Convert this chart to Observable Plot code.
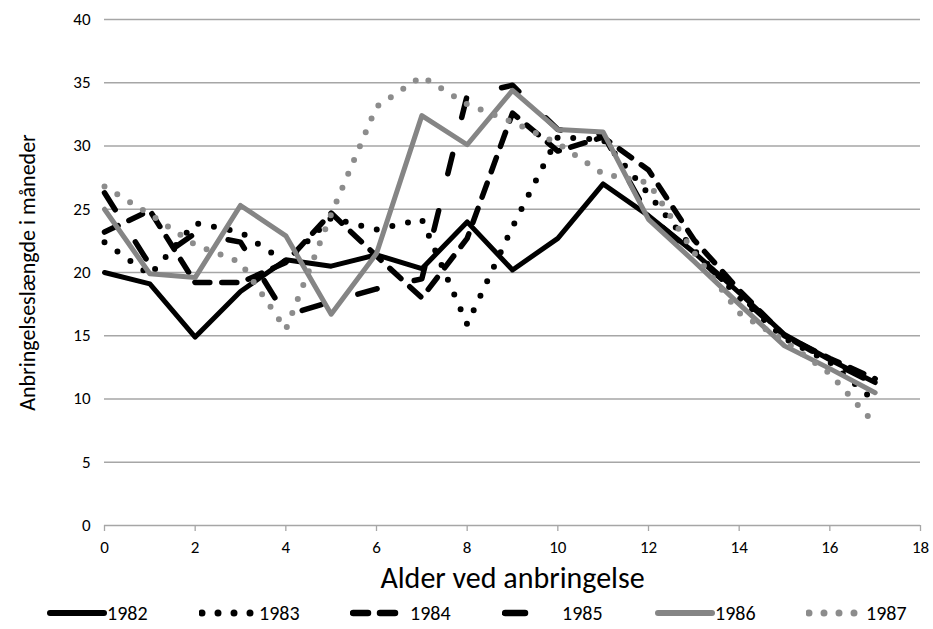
<!DOCTYPE html>
<html>
<head>
<meta charset="utf-8">
<script src="https://cdn.jsdelivr.net/npm/d3@7"></script>
<script src="https://cdn.jsdelivr.net/npm/@observablehq/plot@0.6"></script>
<style>
  body { margin: 0; background: #fff; }
  #wrap { position: relative; width: 933px; height: 629px; font-family: Carlito, "Liberation Sans Narrow", "Liberation Sans", sans-serif; }
  #legend { position: absolute; left: 0; top: 601px; width: 933px; height: 24px; }
  .item { position: absolute; top: 0; display: flex; align-items: center; font-size: 20px; color: #000; }
  .item svg { display: block; }
</style>
</head>
<body>
<div id="wrap">
  <div id="chart"></div>
  <div id="legend"></div>
</div>
<script>
const ages = [0, 1, 2, 3, 4, 5, 6, 7, 8, 9, 10, 11, 12, 13, 14, 15, 16, 17];
const years = ["1982", "1983", "1984", "1985", "1986", "1987"];
const v1982 = [20.0, 19.1, 14.9, 18.5, 21.0, 20.5, 21.4, 20.3, 24.0, 20.2, 22.7, 27.0, 24.5, 21.6, 18.4, 15.1, 13.1, 11.3];
const v1983 = [22.4, 19.8, 23.9, 23.2, 20.8, 24.3, 23.4, 24.2, 15.9, 23.6, 30.7, 30.5, 26.2, 21.8, 18.0, 14.8, 12.9, 9.8];
const v1984 = [23.2, 24.9, 19.2, 19.2, 20.8, 24.7, 21.3, 18.0, 22.7, 32.6, 29.6, 30.7, 28.1, 22.6, 18.6, 15.0, 13.2, 11.6];
const v1985 = [26.3, 20.6, 23.1, 22.4, 16.6, 17.7, 18.7, 19.5, 34.0, 34.8, 31.3, 30.9, 24.5, 21.5, 18.2, 15.0, 13.0, 11.2];
const v1986 = [25.0, 19.9, 19.6, 25.3, 22.9, 16.7, 21.5, 32.4, 30.1, 34.4, 31.3, 31.1, 24.2, 20.9, 17.5, 14.2, 12.4, 10.5];
const v1987 = [26.8, 24.6, 22.2, 20.8, 15.5, 24.6, 33.1, 35.5, 33.3, 31.9, 30.2, 27.8, 27.1, 21.6, 16.8, 14.6, 12.0, 8.0];
const yTicks = [0, 5, 10, 15, 20, 25, 30, 35, 40];
const xTicks = [0, 2, 4, 6, 8, 10, 12, 14, 16, 18];

const seriesValues = [v1982, v1983, v1984, v1985, v1986, v1987];
const styles = {
  "1982": {stroke: "#000", strokeWidth: 5, dash: null},
  "1983": {stroke: "#000", strokeWidth: 6, dash: "0,16"},
  "1984": {stroke: "#000", strokeWidth: 5.5, dash: "15,12"},
  "1985": {stroke: "#000", strokeWidth: 5.5, dash: "20,38"},
  "1986": {stroke: "#858585", strokeWidth: 5, dash: null},
  "1987": {stroke: "#8c8c8c", strokeWidth: 6, dash: "0,15"}
};

const rows = years.map((yr, i) => ages.map((a, j) => ({year: yr, age: a, value: seriesValues[i][j]})));

const font = 'Carlito, "Liberation Sans Narrow", "Liberation Sans", sans-serif';

const lineMarks = rows.map((r, i) => {
  const st = styles[years[i]];
  const opts = {x: "age", y: "value", stroke: st.stroke, strokeWidth: st.strokeWidth,
    strokeLinecap: "round", strokeLinejoin: "round"};
  if (st.dash) opts.strokeDasharray = st.dash;
  return Plot.line(r, opts);
});

const chart = Plot.plot({
  width: 933,
  height: 596,
  marginTop: 19,
  marginBottom: 71,
  marginLeft: 104,
  marginRight: 13,
  style: {fontFamily: font, fontSize: "17px", background: "#fff", overflow: "visible"},
  x: {domain: [0, 18]},
  y: {domain: [0, 40]},
  marks: [
    Plot.ruleY(yTicks.filter(d => d > 0), {stroke: "#a6a6a6", strokeWidth: 1.3}),
    Plot.ruleY([0], {stroke: "#a6a6a6", strokeWidth: 1.3}),
    Plot.axisY({ticks: yTicks, tickSize: 0, tickPadding: 14, label: null, fill: "#000"}),
    Plot.axisX({ticks: xTicks, tickSize: 6, stroke: "#a6a6a6", strokeWidth: 1.3, tickPadding: 9, label: null, fill: "#000"}),
    Plot.text(["Alder ved anbringelse"], {frameAnchor: "bottom", dy: 62, fontSize: 30, fill: "#000"}),
    Plot.text(["Anbringelseslængde i måneder"], {frameAnchor: "left", textAnchor: "middle", dx: -77, rotate: -90, fontSize: 22, fill: "#000"}),
    ...lineMarks
  ]
});
document.getElementById("chart").appendChild(chart);
// enlarge tick labels
chart.querySelectorAll('g[aria-label="y-axis tick label"], g[aria-label="x-axis tick label"]').forEach(g => {
  g.setAttribute("font-size", "17");
  g.style.fontSize = "17px";
  g.querySelectorAll("text").forEach(t => { t.style.fontSize = "17px"; });
});

// legend
const legend = document.getElementById("legend");
const lefts = [47, 199, 350, 502, 655, 806];
years.forEach((yr, i) => {
  const st = styles[yr];
  const div = document.createElement("div");
  div.className = "item";
  div.style.left = lefts[i] + "px";
  const ns = "http://www.w3.org/2000/svg";
  const svg = document.createElementNS(ns, "svg");
  svg.setAttribute("width", 60);
  svg.setAttribute("height", 14);
  const ln = document.createElementNS(ns, "line");
  ln.setAttribute("x1", 3); ln.setAttribute("x2", 57);
  ln.setAttribute("y1", 7); ln.setAttribute("y2", 7);
  ln.setAttribute("stroke", st.stroke);
  ln.setAttribute("stroke-width", st.strokeWidth + 1);
  ln.setAttribute("stroke-linecap", "round");
  if (st.dash) ln.setAttribute("stroke-dasharray", st.dash);
  svg.appendChild(ln);
  const span = document.createElement("span");
  span.textContent = yr;
  div.appendChild(svg);
  div.appendChild(span);
  legend.appendChild(div);
});
</script>
</body>
</html>
